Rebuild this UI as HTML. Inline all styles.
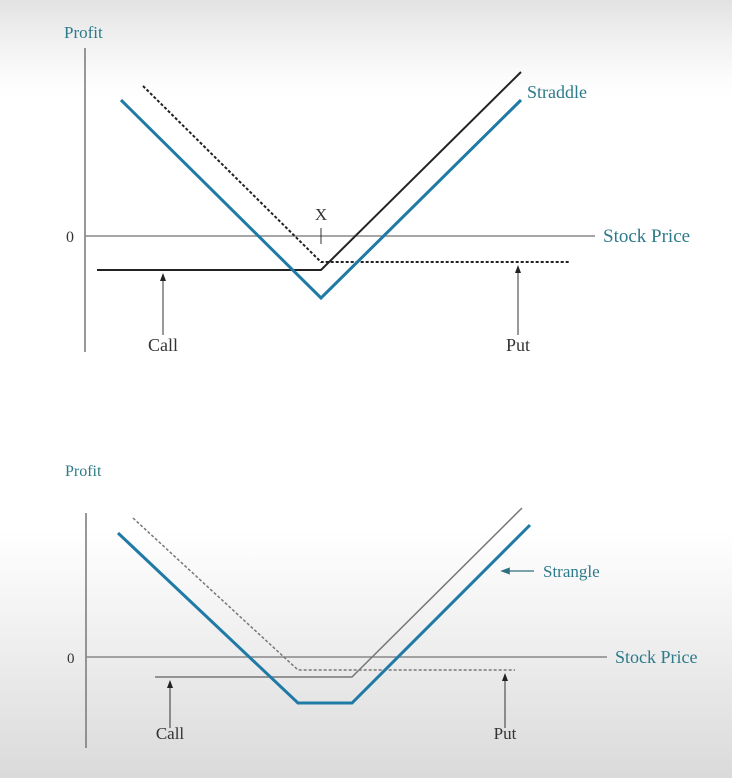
<!DOCTYPE html>
<html><head><meta charset="utf-8">
<style>
html,body{margin:0;padding:0;}
body{width:732px;height:778px;overflow:hidden;background:linear-gradient(#e2e2e2 0px,#efefef 35px,#fbfbfb 75px,#fff 100px,#fff 530px,#f2f2f2 620px,#dadada 778px);}
svg{position:absolute;left:0;top:0;}
text{font-family:"Liberation Serif",serif;}
</style></head>
<body>
<svg id="chart" width="732" height="778" xmlns="http://www.w3.org/2000/svg"></svg>
<script>
// Straddle chart data (stock price, profit)
const straddleLine=[[9,34],[59,-15.5],[109,34]];
const straddleCall=[[3,-8.5],[59,-8.5],[109,41]];
const straddlePut=[[14.5,37.5],[59,-6.5],[121,-6.5]];
// Strangle chart data
const strangleLine=[[8,31],[53,-11.5],[66.5,-11.5],[111,33]];
const strangleCall=[[17.25,-5],[66.5,-5],[109,37.25]];
const stranglePut=[[11.75,34.75],[53,-3.25],[107.25,-3.25]];

const svg=document.getElementById('chart');
const NS='http://www.w3.org/2000/svg';
function mk(tag,attrs,txt){const e=document.createElementNS(NS,tag);for(const k in attrs)e.setAttribute(k,attrs[k]);if(txt!==undefined)e.textContent=txt;svg.appendChild(e);return e;}
const teal='#2d7a8a';
mk('defs',{}).innerHTML='<marker id="ah" markerWidth="8" markerHeight="8" refX="4" refY="4" orient="auto"><path d="M0,1 L8,4 L0,7 z" fill="#222"/></marker><marker id="ahT" markerWidth="8" markerHeight="8" refX="4" refY="4" orient="auto"><path d="M0,1 L8,4 L0,7 z" fill="#2d6f80"/></marker>';

function chart(cfg){
  const sx=v=>cfg.x0+4*v, sy=v=>cfg.y0-4*v;
  const pts=a=>a.map(p=>sx(p[0])+','+sy(p[1])).join(' ');
  let e;
  e=mk('line',{x1:cfg.x0,y1:cfg.yTop,x2:cfg.x0,y2:cfg.yBot,stroke:'#777','stroke-width':1.5});
  
  e=mk('line',{x1:cfg.x0,y1:cfg.y0,x2:cfg.xEnd,y2:cfg.y0,stroke:'#888','stroke-width':1.5});
  
  e=mk('text',{x:cfg.x0-21,y:cfg.profitY,fill:teal,'font-size':cfg.fs+1},'Profit');
  
  e=mk('text',{x:cfg.x0-19,y:cfg.y0+6,fill:'#333','font-size':cfg.fs},'0');
  
  e=mk('text',{x:cfg.xEnd+8,y:cfg.y0+6,fill:teal,'font-size':cfg.fs+3},'Stock Price');
  
  e=mk('polyline',{points:pts(cfg.put),fill:'none',stroke:cfg.putColor,'stroke-width':cfg.putW,'stroke-dasharray':'3,2'});
  
  e=mk('polyline',{points:pts(cfg.call),fill:'none',stroke:cfg.callColor,'stroke-width':cfg.callW});
  
  e=mk('polyline',{points:pts(cfg.main),fill:'none',stroke:'#1f7aa6','stroke-width':3});
  
  const callY=sy(cfg.call[0][1]), putY=sy(cfg.put[cfg.put.length-1][1]);
  e=mk('line',{x1:cfg.callArrowX,y1:cfg.arrowBot,x2:cfg.callArrowX,y2:callY+7,stroke:'#333','stroke-width':1,'marker-end':'url(#ah)'});
  
  e=mk('line',{x1:cfg.putArrowX,y1:cfg.arrowBot,x2:cfg.putArrowX,y2:putY+7,stroke:'#333','stroke-width':1,'marker-end':'url(#ah)'});
  
  e=mk('text',{x:cfg.callArrowX,y:cfg.labelY,fill:'#333','font-size':cfg.fs+2,'text-anchor':'middle'},'Call');
  
  e=mk('text',{x:cfg.putArrowX,y:cfg.labelY,fill:'#333','font-size':cfg.fs+2,'text-anchor':'middle'},'Put');
  
  return {sx,sy};
}

const a=chart({id:'straddle',x0:85,y0:236,yTop:48,yBot:352,xEnd:595,fs:16,profitY:38,main:straddleLine,call:straddleCall,put:straddlePut,callColor:'#222',callW:2,putColor:'#222',putW:2,callArrowX:163,putArrowX:518,arrowBot:335,labelY:351});
let e;
const kx=a.sx(straddleLine[1][0]);
e=mk('line',{x1:kx,y1:228,x2:kx,y2:244,stroke:'#333','stroke-width':1});

e=mk('text',{x:kx,y:220,fill:'#333','font-size':17,'text-anchor':'middle'},'X');

e=mk('text',{x:527,y:98,fill:teal,'font-size':18},'Straddle');


chart({id:'strangle',x0:86,y0:657,yTop:513,yBot:748,xEnd:607,fs:15,profitY:476,main:strangleLine,call:strangleCall,put:stranglePut,callColor:'#777',callW:1.5,putColor:'#777',putW:1.5,callArrowX:170,putArrowX:505,arrowBot:728,labelY:739});
e=mk('line',{x1:534,y1:571,x2:505,y2:571,stroke:'#2d6f80','stroke-width':1.2,'marker-end':'url(#ahT)'});

e=mk('text',{x:543,y:577,fill:teal,'font-size':17},'Strangle');

</script>
</body></html>
